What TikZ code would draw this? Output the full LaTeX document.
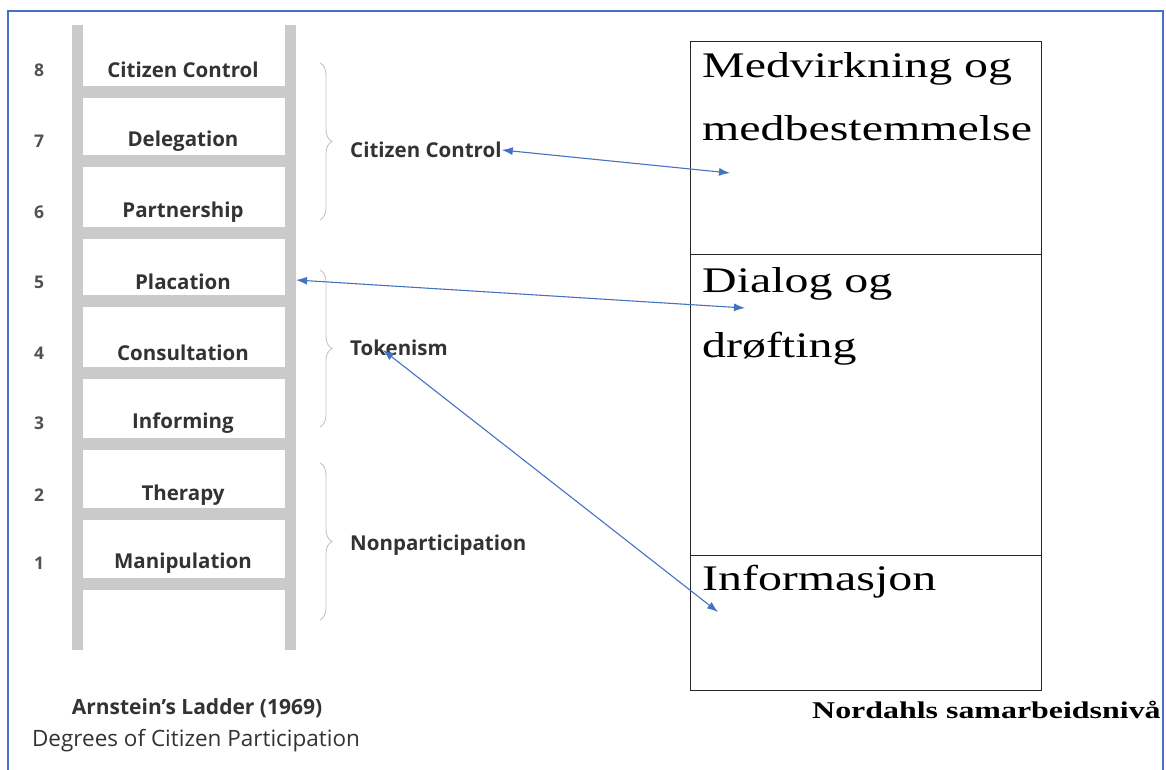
\documentclass[tikz,border=0pt]{standalone}
\usepackage{fontspec}
\setmainfont{Liberation Serif}
\newfontfamily\serifw{Liberation Serif}[FakeStretch=1.33]
\newfontfamily\ladderfont{Open Sans}
\usetikzlibrary{decorations.pathreplacing,arrows.meta}
\definecolor{frameblue}{HTML}{4472C4}
\definecolor{railgray}{HTML}{CACACA}
\definecolor{ink}{HTML}{333333}
\definecolor{bracegray}{HTML}{C4C4C4}
\begin{document}
\begin{tikzpicture}[x=1pt,y=-1pt,
  rung/.style={fill=railgray,draw=none},
  lab/.style={font=\ladderfont\bfseries\fontsize{20.5}{24}\selectfont,text=ink,inner sep=0pt},
  num/.style={font=\ladderfont\bfseries\fontsize{17.5}{21}\selectfont,text=ink!85,inner sep=0pt},
  grp/.style={font=\ladderfont\bfseries\fontsize{20.5}{24}\selectfont,text=ink,inner sep=0pt,anchor=west},
  grpbrace/.style={draw=bracegray,line width=0.9pt,decorate,decoration={brace,amplitude=12pt}},
  cell/.style={draw=black!85,line width=1.2pt,inner sep=0pt,anchor=north west},
  big/.style={font=\serifw\fontsize{36}{40}\selectfont,inner sep=0pt,anchor=base west},
  link/.style={draw=frameblue,line width=1.1pt,{Latex[length=11pt,width=8pt]}-{Latex[length=11pt,width=8pt]}}
]
\useasboundingbox (0,0) rectangle (1166,769);
% frame
\draw[frameblue,line width=2pt] (8,790) -- (8,11) -- (1163,11) -- (1163,790);
% ladder rails
\fill[rung] (72,25) rectangle (83,650);
\fill[rung] (285,25) rectangle (296,650);
\foreach \y in {92,161,233,301,373,444,514,584}{
  \fill[rung] (83,\y-6) rectangle (285,\y+6);
}
% rung labels
\node[lab] (l8) at (183,70) {Citizen Control};
\node[lab] (l7) at (183,141) {Delegation};
\node[lab] (l6) at (183,212) {Partnership};
\node[lab] (l5) at (183,282) {Placation};
\node[lab] (l4) at (183,353) {Consultation};
\node[lab] (l3) at (183,423) {Informing};
\node[lab] (l2) at (183,495) {Therapy};
\node[lab] (l1) at (183,563) {Manipulation};
% numbers
\node[num] (n8) at (39,70) {8};
\node[num] (n7) at (39,141) {7};
\node[num] (n6) at (39,212) {6};
\node[num] (n5) at (39,282) {5};
\node[num] (n4) at (39,353) {4};
\node[num] (n3) at (39,423) {3};
\node[num] (n2) at (39,495) {2};
\node[num] (n1) at (39,563) {1};
% braces
\draw[grpbrace] (320,63) -- (320,220);
\draw[grpbrace] (320,270) -- (320,427);
\draw[grpbrace] (320,463) -- (320,620);
% group labels
\node[grp] (gcc) at (350,150) {Citizen Control};
\node[grp] (gtok) at (350,348) {Tokenism};
\node[grp] (gnon) at (350,545) {Nonparticipation};
% footer left
\node[font=\ladderfont\bfseries\fontsize{21}{24}\selectfont,text=ink,inner sep=0pt] (title) at (197,708) {Arnstein’s Ladder (1969)};
\node[font=\ladderfont\fontsize{22.5}{26}\selectfont,text=ink,inner sep=0pt] (subtitle) at (196,741) {Degrees of Citizen Participation};
% right cells
\node[cell,minimum width=351pt,minimum height=213pt] (cmed) at (690,41) {};
\node[cell,minimum width=351pt,minimum height=301pt] (cdia) at (690,254) {};
\node[cell,minimum width=351pt,minimum height=135pt] (cinf) at (690,555) {};
\node[big] (t1) at (702,77) {Medvirkning og};
\node[big] (t2) at (702,140) {medbestemmelse};
\node[big] (t3) at (702,292) {Dialog og};
\node[big] (t4) at (702,357) {drøfting};
\node[big] (t5) at (702,590) {Informasjon};
\node[font=\serifw\bfseries\fontsize{24}{28}\selectfont,inner sep=0pt,anchor=base west] (nord) at (812,718) {Nordahls samarbeidsnivå};
% arrow end points
\coordinate (a1r) at (730,173);
\coordinate (a2l) at (296,280);
\coordinate (a2r) at (745,308);
\coordinate (a3l) at (383,350);
\coordinate (a3r) at (718,612);
\draw[link] (gcc.east) -- (a1r);
\draw[link] (a2l) -- (a2r);
\draw[link] (a3l) -- (a3r);
\end{tikzpicture}
\end{document}
